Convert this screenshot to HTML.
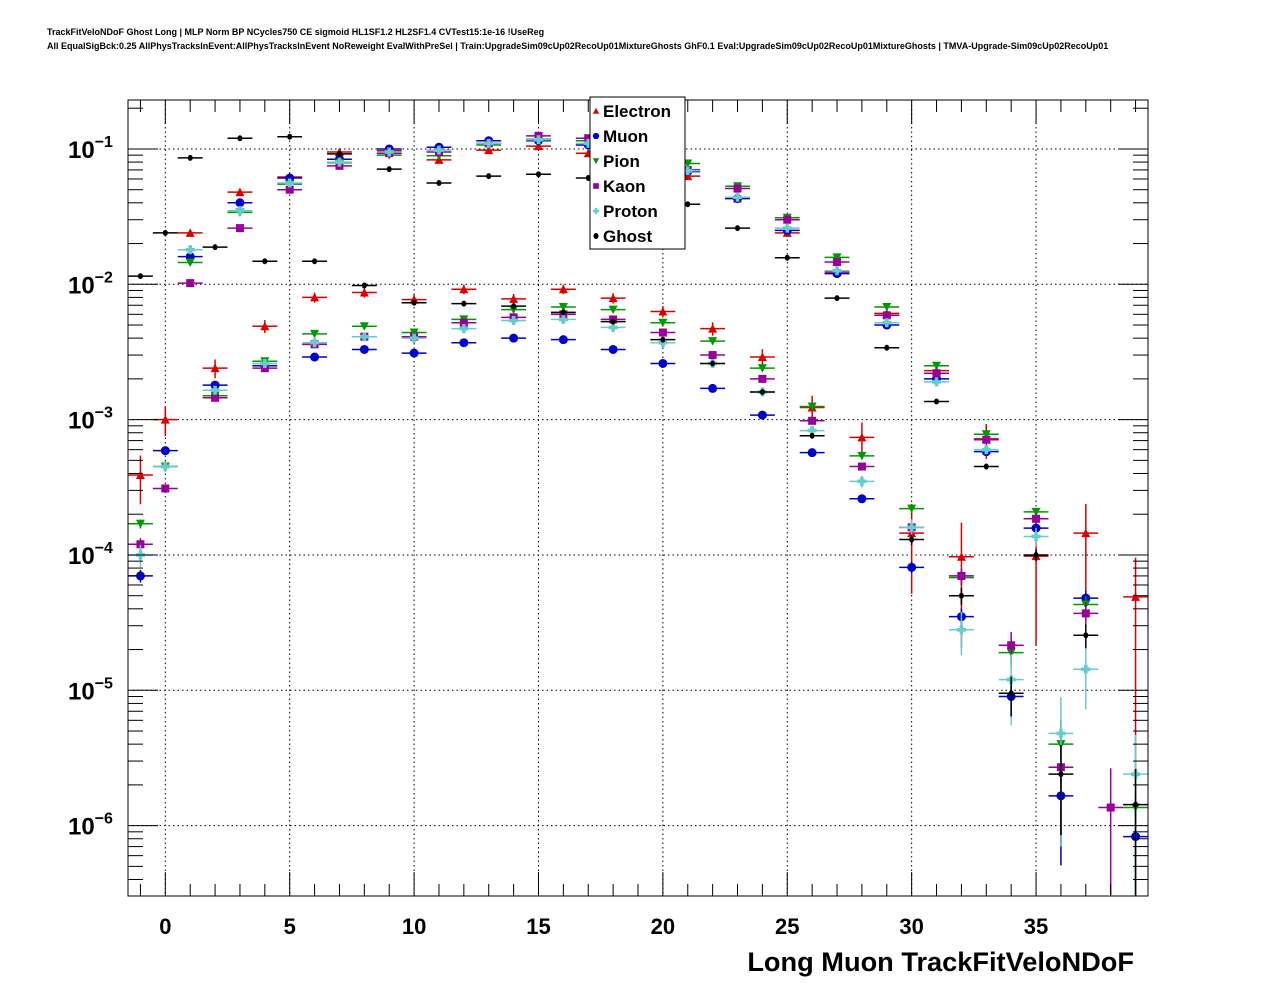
<!DOCTYPE html>
<html><head><meta charset="utf-8"><style>
html,body{margin:0;padding:0;background:#fff;}
svg{display:block;font-family:"Liberation Sans",Arial,sans-serif;}
</style></head><body>
<svg id="chart" width="1276" height="996" viewBox="0 0 1276 996" xmlns="http://www.w3.org/2000/svg">
<text x="47" y="35" font-size="9" font-weight="bold">TrackFitVeloNDoF Ghost Long | MLP Norm BP NCycles750 CE sigmoid HL1SF1.2 HL2SF1.4 CVTest15:1e-16 !UseReg</text>
<text x="47" y="49" font-size="9" font-weight="bold">All EqualSigBck:0.25 AllPhysTracksInEvent:AllPhysTracksInEvent NoReweight EvalWithPreSel | Train:UpgradeSim09cUp02RecoUp01MixtureGhosts GhF0.1 Eval:UpgradeSim09cUp02RecoUp01MixtureGhosts | TMVA-Upgrade-Sim09cUp02RecoUp01</text>
<defs><clipPath id="plotclip"><rect x="128" y="100" width="1020" height="796"/></clipPath></defs>
<g id="grid"></g>
<g id="marks" clip-path="url(#plotclip)"></g>
<g id="axes"></g>
<text x="1134" y="971" text-anchor="end" font-size="27.2" font-weight="bold">Long Muon TrackFitVeloNDoF</text>
<g id="legend"></g>
</svg>
<script>
const bins = [-1,0,1,2,3,4,5,6,7,8,9,10,11,12,13,14,15,16,17,18,19,20,21,22,23,24,25,26,27,28,29,30,31,32,33,34,35,36,37,38,39];
const electron = [3.9e-4,1.0e-3,0.024,0.0024,0.048,0.0049,0.062,0.008,0.095,0.0087,0.097,0.0077,0.083,0.0092,0.098,0.0078,0.105,0.0092,0.093,0.0079,0.095,0.0063,0.063,0.0047,0.043,0.0029,0.024,0.00123,0.0123,0.00074,0.0061,1.45e-4,0.0023,9.7e-5,7.2e-4,null,9.8e-5,null,1.45e-4,null,4.9e-5];
const muon = [7e-5,5.9e-4,0.016,0.0018,0.04,0.0025,0.061,0.0029,0.084,0.0033,0.1,0.0031,0.103,0.0037,0.115,0.004,0.115,0.0039,0.107,0.0033,0.1,0.0026,0.068,0.0017,0.043,0.00108,0.025,0.00057,0.012,0.00026,0.005,8.1e-5,0.002,3.5e-5,5.8e-4,9e-6,1.58e-4,1.66e-6,4.8e-5,null,8.3e-7];
const pion = [1.7e-4,4.5e-4,0.0145,0.0015,0.034,0.0027,0.055,0.0043,0.079,0.0049,0.09,0.0044,0.089,0.0055,0.107,0.0065,0.118,0.0068,0.115,0.0065,0.1,0.0052,0.078,0.0038,0.053,0.0024,0.031,0.00125,0.0158,0.00054,0.0068,2.2e-4,0.0025,6.8e-5,7.8e-4,1.9e-5,2.08e-4,4e-6,4.3e-5,null,1.36e-6];
const kaon = [1.2e-4,3.1e-4,0.0102,0.00145,0.026,0.0024,0.05,0.0036,0.075,0.0041,0.093,0.0041,0.095,0.0052,0.11,0.0057,0.125,0.006,0.12,0.0055,0.1,0.0044,0.07,0.003,0.051,0.002,0.03,0.00098,0.0146,0.00045,0.0059,1.6e-4,0.0022,7e-5,7.1e-4,2.15e-5,1.85e-4,2.7e-6,3.7e-5,1.36e-6,null];
const proton = [1.0e-4,4.5e-4,0.018,0.00165,0.035,0.0026,0.056,0.0037,0.08,0.0041,0.095,0.004,0.098,0.0047,0.11,0.0054,0.117,0.0055,0.11,0.0048,0.1,0.0037,0.069,0.0026,0.044,0.0016,0.026,0.00083,0.0126,0.00035,0.0052,1.6e-4,0.0019,2.8e-5,6e-4,1.2e-5,1.37e-4,4.8e-6,1.43e-5,null,2.4e-6];
const ghost = [0.0115,0.024,0.086,0.0188,0.12,0.0148,0.123,0.0148,0.092,0.0098,0.071,0.0073,0.056,0.0072,0.063,0.0069,0.065,0.0062,0.061,0.0053,0.05,0.0039,0.039,0.0026,0.026,0.0016,0.0157,0.00076,0.0079,null,0.0034,1.3e-4,0.00136,5e-5,4.5e-4,9.5e-6,1.0e-4,2.4e-6,2.55e-5,null,1.43e-6];
const xTicks = [0,5,10,15,20,25,30,35];
const yExps = [-1,-2,-3,-4,-5,-6];
const seriesNames = ["Electron","Muon","Pion","Kaon","Proton","Ghost"];

const X0=128,X1=1148,Y0=100,Y1=896;
const xmin=-1.5,xmax=39.5, lmax=Math.log10(0.23), lmin=-6.52;
const sx=v=>X0+(v-xmin)/(xmax-xmin)*(X1-X0);
const sy=v=>Y0+(lmax-Math.log10(v))/(lmax-lmin)*(Y1-Y0);
const NS="http://www.w3.org/2000/svg";
function mk(tag,attrs,parent){const e=document.createElementNS(NS,tag);for(const k in attrs)e.setAttribute(k,attrs[k]);parent.appendChild(e);return e;}
const grid=document.getElementById('grid'),axes=document.getElementById('axes'),marks=document.getElementById('marks'),legend=document.getElementById('legend');

xTicks.forEach(t=>{const l=mk('line',{x1:sx(t),x2:sx(t),y1:Y0,y2:Y1,stroke:'#000','stroke-width':1,'stroke-dasharray':'1.5,3'},grid);

});
yExps.forEach(e=>{const y=sy(Math.pow(10,e));const l=mk('line',{x1:X0,x2:X1,y1:y,y2:y,stroke:'#000','stroke-width':1,'stroke-dasharray':'1.5,3'},grid);

});

const fr=mk('rect',{x:X0,y:Y0,width:X1-X0,height:Y1-Y0,fill:'none',stroke:'#000','stroke-width':1},axes);


for(let t=-1;t<=39;t++){const major=(t%5===0);const len=major?24:12;const x=sx(t);
mk('line',{x1:x,x2:x,y1:Y1,y2:Y1-len,stroke:'#000'},axes);mk('line',{x1:x,x2:x,y1:Y0,y2:Y0+len,stroke:'#000'},axes);}
xTicks.forEach(t=>{const tx=mk('text',{x:sx(t),y:934,'text-anchor':'middle','font-size':22,'font-weight':'bold'},axes);tx.textContent=String(t);

});
for(let e=-7;e<=-1;e++){for(let m=1;m<=9;m++){const v=m*Math.pow(10,e);const y=sy(v);if(y<Y0||y>Y1)continue;const len=m===1?30:15;
mk('line',{x1:X0,x2:X0+len,y1:y,y2:y,stroke:'#000'},axes);mk('line',{x1:X1,x2:X1-len,y1:y,y2:y,stroke:'#000'},axes);}}
yExps.forEach(e=>{const y=sy(Math.pow(10,e));const tx=mk('text',{x:68,y:y+9,'font-size':24,'font-weight':'bold'},axes);


tx.textContent='10';const s=mk('tspan',{dy:-11,'font-size':16},tx);s.textContent='\u2212'+(-e);});

const styles=[
 {d:electron,c:'#dd0000',m:'tu',k:6e-5},
 {d:muon,c:'#0000cc',m:'c',k:8e-7},
 {d:pion,c:'#009900',m:'td',k:1e-6},
 {d:kaon,c:'#990099',m:'s',k:1.4e-6},
 {d:proton,c:'#66cccc',m:'p',k:3.5e-6},
 {d:ghost,c:'#000000',m:'g',k:1e-6}];
function marker(type,x,y,c,parent){
 if(type==='tu')return mk('polygon',{points:`${x-4.5},${y+4} ${x+4.5},${y+4} ${x},${y-4.5}`,fill:c},parent);
 if(type==='td')return mk('polygon',{points:`${x-4.5},${y-4} ${x+4.5},${y-4} ${x},${y+4.5}`,fill:c},parent);
 if(type==='c')return mk('circle',{cx:x,cy:y,r:4.5,fill:c},parent);
 if(type==='s')return mk('rect',{x:x-4,y:y-4,width:8,height:8,fill:c},parent);
 if(type==='p')return mk('path',{d:`M${x-4.5},${y-1.8}h2.7v-2.7h3.6v2.7h2.7v3.6h-2.7v2.7h-3.6v-2.7h-2.7z`,fill:c},parent);
 return mk('ellipse',{cx:x,cy:y,rx:2.5,ry:3,fill:c},parent);
}
styles.forEach((s,si)=>{
 const g=mk('g',{},marks);
 
 
 s.d.forEach((v,i)=>{if(v==null)return;const b=bins[i];const x=sx(b),y=sy(v);
  const rel=Math.min(0.95,Math.sqrt(s.k/v));
  mk('line',{x1:sx(b-0.5),x2:sx(b+0.5),y1:y,y2:y,stroke:s.c,'stroke-width':1.5},g);
  mk('line',{x1:x,x2:x,y1:sy(v*(1+rel)),y2:sy(v*(1-rel)),stroke:s.c,'stroke-width':1.5},g);
  const p=marker(s.m,x,y,s.c,g);
  
  
 });
});

const lb=mk('rect',{x:590,y:97,width:95,height:152,fill:'#fff',stroke:'#000','stroke-width':1},legend);


styles.forEach((s,i)=>{const y=111+i*25;
 const g=mk('g',{},legend);
 
 
 const mm=marker(s.m,596,y,s.c,g);
 if(s.m!=='g'){mm.setAttribute('transform',`translate(596 ${y}) scale(0.7) translate(-596 ${-y})`);}
 const t=mk('text',{x:603,y:y+6,'font-size':17,'font-weight':'bold'},g);t.textContent=seriesNames[i];});
</script>
</body></html>
